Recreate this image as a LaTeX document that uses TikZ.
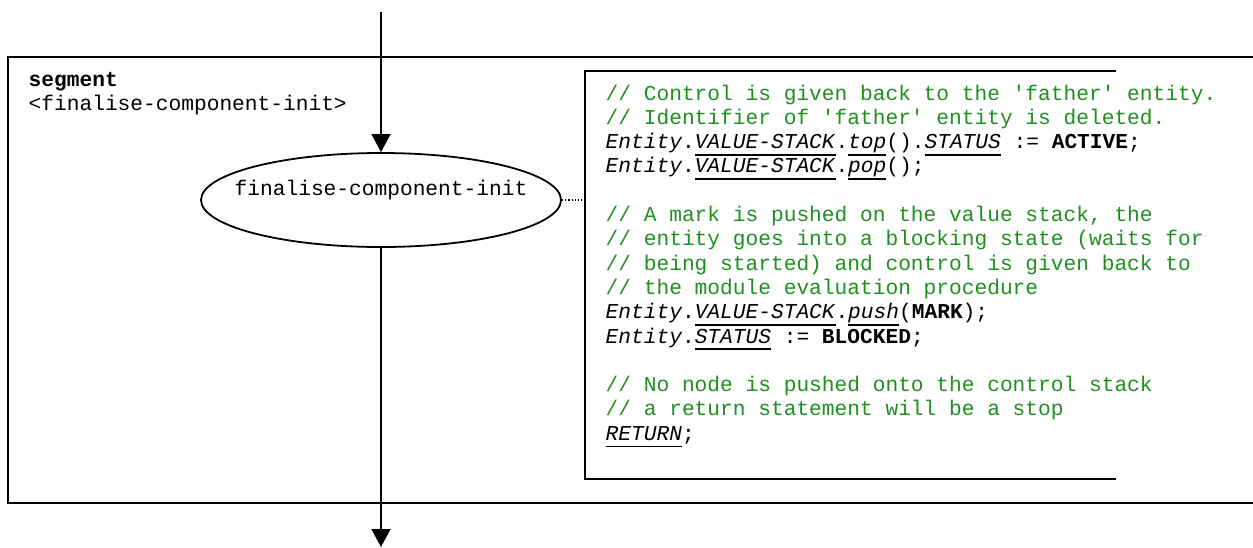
\documentclass[tikz,border=0pt]{standalone}
\usepackage{fontspec}
\setmonofont{Liberation Mono}
\usepackage{tikz}
\usetikzlibrary{arrows.meta,shapes.geometric,calc}
\definecolor{ink}{HTML}{000000}
\definecolor{cgreen}{HTML}{1F8F1F}
\newcommand{\codefont}{\ttfamily\fontsize{10.6}{12.15}\selectfont}
\newcommand{\cmt}[1]{\textcolor{cgreen}{#1}}
\newcommand{\ulit}[1]{\sbox0{\textit{#1}}\rlap{\rule[-3.6pt]{\wd0}{0.9pt}}\usebox0}
\tikzset{
  >={Triangle[length=9pt,width=9.5pt]},
  every picture/.style={line width=0.7pt,font=\codefont},
  frm/.style={draw=ink,line width=1pt},
  st/.style={ellipse,draw=ink,line width=0.9pt,minimum width=180pt,minimum height=47pt,inner sep=0},
  txt/.style={inner sep=0,align=left},
  flow/.style={->,draw=ink,line width=0.7pt},
}

\begin{document}
\begin{tikzpicture}[x=0.5pt,y=-0.5pt]
  \useasboundingbox (0,0) rectangle (1253,547);
  \draw[frm] (1253,57) -- (8,57) -- (8,503) -- (1253,503);
  \node[txt,anchor=base west] (seg) at (28,110.5) {\textbf{segment}\\<finalise-component-init>};
  \node[st] (fci) at (381,200) {};
  \node[txt,anchor=base] (fcit) at (381,195) {finalise-component-init};
  \coordinate (in) at (381,12);
  \coordinate (out) at (381,547);
  \draw[flow] (in) -- (fci.north);
  \draw[flow] (fci.south) -- (out);
  % task box
  \draw[frm] (1116,71) -- (585,71) coordinate (tl) -- (585,479) -- (1116,479);
  \draw[densely dotted,line width=0.6pt] (fci.east) -- (fci.east -| tl);
  \node[txt,anchor=north west] (code) at (605,84) {%
    \cmt{// Control is given back to the 'father' entity.}\\
    \cmt{// Identifier of 'father' entity is deleted.}\\
    \textit{Entity}.\ulit{VALUE-STACK}.\ulit{top}().\ulit{STATUS} := \textbf{ACTIVE};\\
    \textit{Entity}.\ulit{VALUE-STACK}.\ulit{pop}();\\[12.15pt]
    \cmt{// A mark is pushed on the value stack, the}\\
    \cmt{// entity goes into a blocking state (waits for}\\
    \cmt{// being started) and control is given back to}\\
    \cmt{// the module evaluation procedure}\\
    \textit{Entity}.\ulit{VALUE-STACK}.\ulit{push}(\textbf{MARK});\\
    \textit{Entity}.\ulit{STATUS} := \textbf{BLOCKED};\\[12.15pt]
    \cmt{// No node is pushed onto the control stack}\\
    \cmt{// a return statement will be a stop}\\
    \ulit{RETURN};};
\end{tikzpicture}
\end{document}
